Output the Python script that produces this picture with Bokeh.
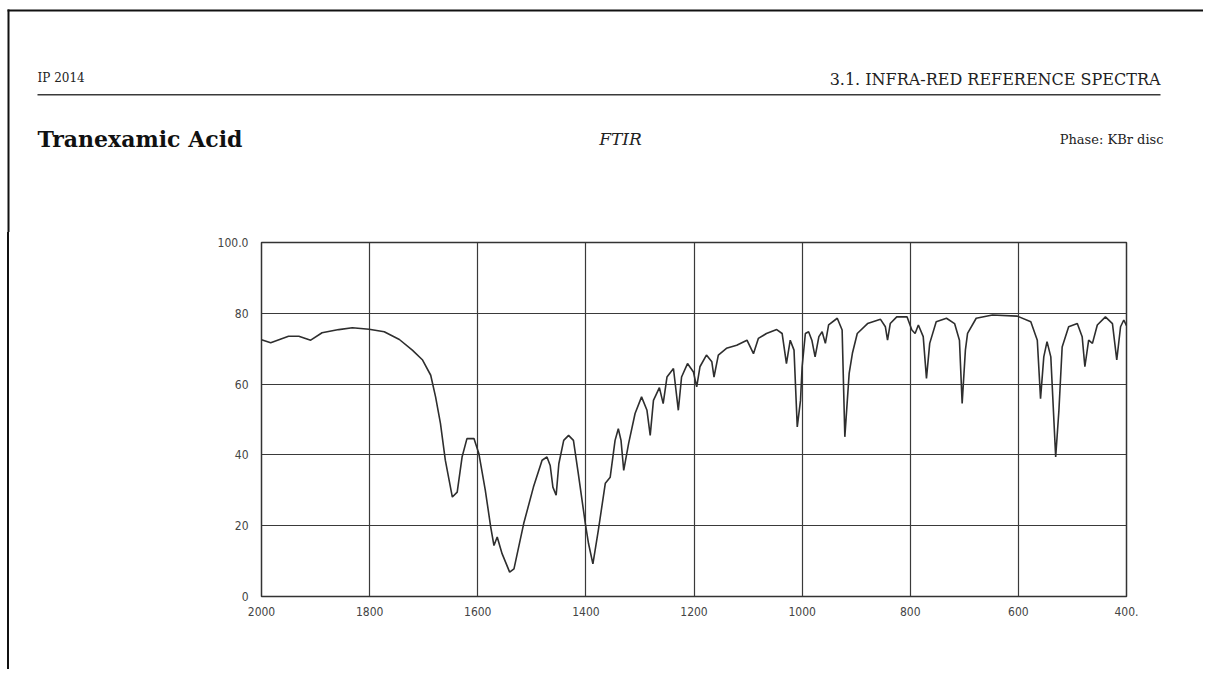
from bokeh.plotting import figure
from bokeh.models import Range1d, FixedTicker, Div
from bokeh.layouts import column, row
from bokeh.core.properties import value
from bokeh.embed import file_html
from bokeh.resources import INLINE

# ---- data ----
wavenumber = [2000, 1983, 1950, 1931, 1909, 1888, 1857, 1832, 1801, 1773, 1745, 1721,
              1702, 1687, 1678, 1669, 1660, 1647, 1638, 1629, 1620, 1607, 1598, 1586,
              1576, 1570, 1564, 1555, 1541, 1533, 1515, 1497, 1481, 1472, 1466, 1461,
              1455, 1450, 1441, 1432, 1423, 1414, 1401, 1395, 1387, 1377, 1364, 1355,
              1346, 1340, 1335, 1330, 1321, 1309, 1297, 1287, 1281, 1275, 1264, 1257,
              1250, 1238, 1229, 1223, 1212, 1201, 1195, 1189, 1177, 1167, 1163, 1155,
              1140, 1121, 1102, 1090, 1081, 1066, 1047, 1037, 1029, 1022, 1015, 1009,
              1003, 1000, 994, 988, 982, 976, 969, 963, 957, 951, 935, 926, 921, 913,
              907, 898, 879, 855, 846, 842, 837, 825, 806, 797, 791, 785, 776, 770,
              764, 752, 733, 718, 709, 704, 698, 694, 678, 648, 602, 577, 565, 559,
              553, 547, 540, 531, 525, 519, 507, 491, 482, 477, 470, 463, 454, 439,
              426, 418, 411, 405, 400]
transmittance = [72.5, 71.7, 73.5, 73.5, 72.4, 74.5, 75.4, 75.9, 75.5, 74.8, 72.6, 69.6,
                 66.8, 62.5, 56.4, 48.9, 38.5, 28.1, 29.5, 39.4, 44.6, 44.6, 40.4, 30.0,
                 19.6, 14.4, 16.8, 12.1, 6.9, 7.8, 20.6, 30.9, 38.5, 39.4, 37.0, 30.9,
                 28.6, 37.5, 44.1, 45.5, 44.1, 34.7, 20.6, 14.9, 9.2, 18.7, 32.0, 33.7,
                 44.1, 47.4, 44.1, 35.6, 43.2, 51.7, 56.4, 52.6, 45.5, 55.4, 59.0, 54.5,
                 62.0, 64.4, 52.6, 62.0, 65.8, 63.4, 59.2, 64.9, 68.2, 66.3, 62.0, 68.2,
                 70.1, 71.0, 72.4, 68.6, 72.9, 74.3, 75.4, 74.3, 65.8, 72.4, 69.6, 47.9,
                 55.4, 64.9, 74.3, 74.8, 72.4, 67.7, 73.4, 74.8, 71.5, 76.7, 78.6, 75.3, 45.1, 63.0,
                 68.7, 74.3, 77.1, 78.3, 76.2, 72.4, 77.1, 79.0, 79.0, 75.3, 74.3, 76.7, 73.4, 61.6,
                 71.5, 77.6, 78.6, 77.1, 72.4, 54.5, 69.6, 74.3, 78.6, 79.5, 79.2, 77.6, 72.4, 55.9,
                 67.7, 72.0, 67.7, 39.4, 52.6, 70.5, 76.2, 77.1, 73.4, 64.9, 72.4, 71.5, 76.7, 79.0,
                 77.1, 66.8, 76.2, 78.1, 76.5]
x_ticks = [2000, 1800, 1600, 1400, 1200, 1000, 800, 600, 400]
y_ticks = [0, 20, 40, 60, 80, 100]
x_tick_labels = {400: "400."}
y_tick_labels = {100: "100.0"}

header_left = "IP 2014"
header_right = "3.1. INFRA-RED REFERENCE SPECTRA"
compound = "Tranexamic Acid"
method = "FTIR"
phase = "Phase: KBr disc"

TOTAL_W = 1203
TOTAL_H = 669
STRIP_W = 10
HEAD_H = 232
PLOT_H = TOTAL_H - HEAD_H
SERIF = value("DejaVu Serif")

# ---- page header (a blank figure measured in page pixels) ----
head = figure(output_backend="svg", toolbar_location=None,
              width=TOTAL_W, height=HEAD_H,
              x_range=Range1d(0, TOTAL_W), y_range=Range1d(HEAD_H, 0),
              x_axis_type=None, y_axis_type=None, min_border=0,
              outline_line_color=None, background_fill_color="white",
              border_fill_color="white")
head.grid.visible = False

# scanned page edge (top and left) and the header rule
head.quad(left=[7, 7, 37], right=[TOTAL_W, 9, 1160], top=[9, 9, 93.5], bottom=[11, HEAD_H, 95],
          fill_color=["#111111", "#111111", "#3a3a3a"], line_color=None)

head.text(x=[37], y=[77], text=[header_left], text_font=SERIF, text_font_size="12px",
          text_color="#222222", text_baseline="alphabetic", text_align="left")
head.text(x=[1160], y=[79], text=[header_right], text_font=SERIF, text_font_size="16px",
          text_color="#222222", text_baseline="alphabetic", text_align="right")
head.text(x=[37], y=[138], text=[compound], text_font=SERIF, text_font_size="22px",
          text_font_style="bold", text_color="#111111", text_baseline="alphabetic",
          text_align="left")
head.text(x=[620], y=[138], text=[method], text_font=SERIF, text_font_size="17px",
          text_font_style="italic", text_color="#222222", text_baseline="alphabetic",
          text_align="center")
head.text(x=[1163], y=[139], text=[phase], text_font=SERIF, text_font_size="13px",
          text_color="#222222", text_baseline="alphabetic", text_align="right")

# ---- left page edge beside the chart (plain block, no text) ----
strip = Div(text='<div style="margin-left:7px;width:2px;height:%dpx;background:#111111"></div>' % PLOT_H,
            width=STRIP_W, height=PLOT_H, margin=0)

# ---- spectrum ----
p = figure(output_backend="svg", toolbar_location=None,
           frame_width=865, frame_height=354,
           min_border_left=261 - STRIP_W, min_border_right=TOTAL_W - 261 - 865,
           min_border_top=10, min_border_bottom=PLOT_H - 10 - 354,
           x_range=Range1d(2000, 400), y_range=Range1d(0, 100),
           background_fill_color="white", border_fill_color="white")

p.outline_line_color = "#333333"
p.outline_line_width = 1.5

p.xaxis.ticker = FixedTicker(ticks=x_ticks)
p.yaxis.ticker = FixedTicker(ticks=y_ticks)
p.xaxis.major_label_overrides = x_tick_labels
p.yaxis.major_label_overrides = y_tick_labels
for ax in (p.xaxis, p.yaxis):
    ax.axis_line_color = None
    ax.major_tick_line_color = None
    ax.minor_tick_line_color = None
    ax.major_tick_out = 0
    ax.major_tick_in = 0
    ax.major_label_text_font = "Liberation Sans Narrow, DejaVu Sans Condensed, sans-serif"
    ax.major_label_text_font_size = "12px"
    ax.major_label_text_color = "#444444"
p.xaxis.major_label_standoff = 10
p.yaxis.major_label_standoff = 13

p.xgrid.ticker = FixedTicker(ticks=x_ticks)
p.ygrid.ticker = FixedTicker(ticks=y_ticks)
p.grid.grid_line_color = "#3a3a3a"
p.grid.grid_line_width = 1.2
p.grid.grid_line_alpha = 1.0

p.line(wavenumber, transmittance, line_color="#2e2e2e", line_width=1.6)

layout = column(head, row(strip, p, spacing=0), spacing=0)

open("out.html", "w").write(file_html(layout, INLINE))
